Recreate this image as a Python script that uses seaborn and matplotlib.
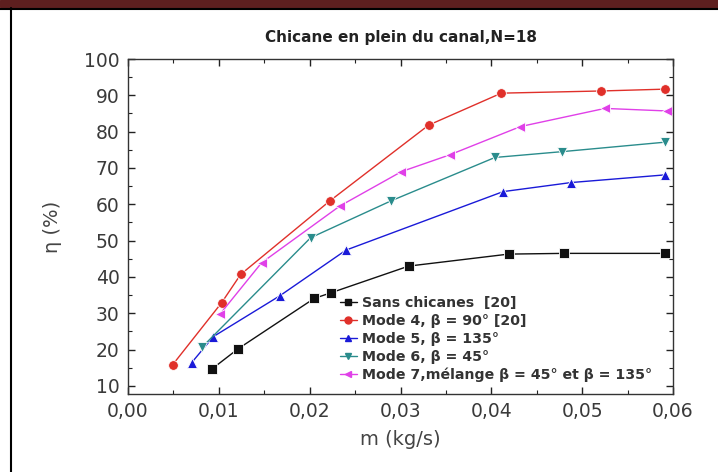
import matplotlib
matplotlib.use("Agg")
import matplotlib.pyplot as plt
import seaborn as sns
import pandas as pd
from matplotlib.ticker import MultipleLocator, FixedLocator
from matplotlib.lines import Line2D
from matplotlib.patches import Rectangle

# ---- data ----
series_names = [
    "Sans chicanes  [20]",
    "Mode 4, β = 90° [20]",
    "Mode 5, β = 135°",
    "Mode 6, β = 45°",
    "Mode 7,mélange β = 45° et β = 135°",
]
sans_x = [0.0092, 0.0121, 0.0205, 0.0224, 0.0309, 0.0419, 0.0480, 0.0591]
sans_y = [14.6, 20.2, 34.1, 35.7, 43.0, 46.3, 46.5, 46.5]
mode4_x = [0.0049, 0.0103, 0.0124, 0.0222, 0.0331, 0.0411, 0.0521, 0.0591]
mode4_y = [15.8, 32.9, 40.7, 60.9, 81.8, 90.6, 91.2, 91.7]
mode5_x = [0.0070, 0.0094, 0.0167, 0.0240, 0.0413, 0.0488, 0.0591]
mode5_y = [16.4, 23.6, 34.8, 47.4, 63.5, 66.0, 68.1]
mode6_x = [0.0082, 0.0201, 0.0290, 0.0404, 0.0478, 0.0591]
mode6_y = [20.8, 50.8, 61.0, 72.9, 74.5, 77.1]
mode7_x = [0.0101, 0.0147, 0.0233, 0.0301, 0.0354, 0.0432, 0.0525, 0.0593]
mode7_y = [29.7, 43.9, 59.5, 69.0, 73.6, 81.4, 86.4, 85.7]

x_ticks = [0.00, 0.01, 0.02, 0.03, 0.04, 0.05, 0.06]
x_ticklabels = ["0,00", "0,01", "0,02", "0,03", "0,04", "0,05", "0,06"]
y_ticks = [10, 20, 30, 40, 50, 60, 70, 80, 90, 100]
y_ticklabels = ["10", "20", "30", "40", "50", "60", "70", "80", "90", "100"]

title = "Chicane en plein du canal,N=18"
xlabel = "m (kg/s)"
ylabel = "η (%)"

colors = ["#111111", "#e0302a", "#1a1ad8", "#2a8c8c", "#e040e8"]
markers = ["s", "o", "^", "v", "<"]

xs = [sans_x, mode4_x, mode5_x, mode6_x, mode7_x]
ys = [sans_y, mode4_y, mode5_y, mode6_y, mode7_y]
frames = []
for name, x, y in zip(series_names, xs, ys):
    frames.append(pd.DataFrame({"m": x, "eta": y, "serie": name}))
df = pd.concat(frames, ignore_index=True)

sns.set_theme(style="white")
plt.rcParams["font.family"] = ["DejaVu Sans"]

fig = plt.figure(figsize=(7.18, 4.72), dpi=100)
ax = fig.add_axes([0.1783, 0.1653, 0.759, 0.7097])

sns.lineplot(
    data=df, x="m", y="eta", hue="serie", style="serie",
    hue_order=series_names, style_order=series_names,
    palette=dict(zip(series_names, colors)),
    markers=dict(zip(series_names, markers)),
    dashes=False, sort=True, estimator=None,
    markersize=7, markeredgewidth=0.6, linewidth=1.0,
    ax=ax, legend=False,
)

ax.set_xlim(0.0, 0.06)
ax.set_ylim(7.8, 100)
ax.xaxis.set_major_locator(FixedLocator(x_ticks))
ax.set_xticklabels(x_ticklabels)
ax.xaxis.set_minor_locator(MultipleLocator(0.005))
ax.yaxis.set_major_locator(FixedLocator(y_ticks))
ax.set_yticklabels(y_ticklabels)
ax.yaxis.set_minor_locator(MultipleLocator(5))
ax.tick_params(which="both", direction="in", top=True, right=True,
               bottom=True, left=True, labelsize=13.5, colors="#222222",
               labelcolor="#3a3a3a")
ax.tick_params(which="major", length=5, width=1.0, pad=6)
ax.tick_params(which="minor", length=3, width=0.8)
for s in ax.spines.values():
    s.set_color("#333333")
    s.set_linewidth(1.0)

ax.set_xlabel(xlabel, fontsize=14, color="#444444", labelpad=6)
ax.set_ylabel(ylabel, fontsize=14, color="#444444", labelpad=16)
ax.set_title(title, fontsize=11, fontweight="bold", color="#222222", pad=12)

handles = [
    Line2D([0], [0], color=c, marker=mk, markersize=5, linewidth=1.0)
    for c, mk in zip(colors, markers)
]
leg = ax.legend(handles, series_names, loc="upper left",
                bbox_to_anchor=(0.378, 0.31), frameon=False,
                prop={"weight": "bold", "size": 10.2},
                handlelength=1.2, handletextpad=0.4, labelspacing=0.28,
                borderaxespad=0.0)
for t in leg.get_texts():
    t.set_color("#333333")

# page decoration: dark red band and black frame lines
fig.patches.append(Rectangle((0, 1 - 7 / 472), 1, 7 / 472, transform=fig.transFigure,
                             color="#5e1f1f", zorder=0))
fig.lines.append(Line2D([0, 1], [1 - 8.5 / 472, 1 - 8.5 / 472], transform=fig.transFigure,
                        color="black", linewidth=1.5))
fig.lines.append(Line2D([11 / 718, 11 / 718], [0, 1 - 8 / 472], transform=fig.transFigure,
                        color="black", linewidth=1.5))

fig.savefig("out.png", dpi=100)
